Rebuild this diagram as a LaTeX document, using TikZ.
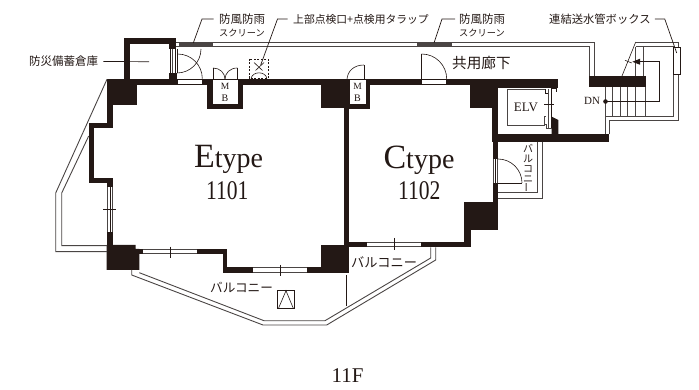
\documentclass[tikz,border=0pt]{standalone}
\usepackage{fontspec}
\usepackage{xcolor}
\newfontfamily\cjk{Noto Sans CJK JP}
\newfontfamily\planserif{Liberation Serif}
\definecolor{wallblack}{HTML}{231815}
\definecolor{linegrey}{HTML}{4A4544}
\newcommand{\narrow}[1]{\scalebox{0.8}[1]{#1}}
\newcommand{\bigsize}[1]{\fontsize{#1}{#1}\selectfont}

\begin{document}
\begin{tikzpicture}[x=1pt,y=1pt]
\tikzstyle{every node}+=[inner sep=0pt]
\tikzstyle{wall}=[fill=wallblack,draw=none]
\tikzstyle{gap}=[fill=white,draw=none]
\tikzstyle{rail}=[draw=linegrey,line width=0.9pt]
\tikzstyle{thin}=[draw=wallblack,line width=0.6pt]
\tikzstyle{leader}=[draw=wallblack,line width=0.7pt]
\tikzstyle{jptext}=[text=wallblack,font=\cjk\bigsize{11.5}]
\tikzstyle{romantext}=[text=wallblack,font=\planserif]
\useasboundingbox (0,0) rectangle (699,-390);
% storage box
\fill [wall] (124.3,-38.3) rectangle (130,-80);
\fill [wall] (124.3,-38.3) rectangle (175.7,-44);
\fill [wall] (169.3,-38.3) rectangle (175.7,-49.3);
\fill [wall] (169.3,-72.7) rectangle (176.7,-80);
% wall along the corridor
\fill [wall] (107,-79.3) rectangle (177,-84.7);
\fill [wall] (202,-79.3) rectangle (421.7,-84.7);
\fill [wall] (446.7,-79.3) rectangle (558.3,-84.7);
\fill [wall] (498,-79.3) rectangle (558.3,-87.7);
\fill [wall] (207.3,-79.3) rectangle (243,-109);
\fill [gap] (212.7,-79.3) rectangle (237.7,-104);
\fill [wall] (345,-79.3) rectangle (370,-109);
\fill [gap] (350,-79.3) rectangle (366,-104);
% left side of E
\fill [wall] (107,-79.3) rectangle (137,-104.7);
\fill [wall] (107.3,-79.3) rectangle (112.7,-128.3);
\fill [wall] (89,-122.7) rectangle (112.7,-128.3);
\fill [wall] (89,-122.7) rectangle (94.3,-183.3);
\fill [wall] (89,-178) rectangle (112.7,-183.3);
\fill [wall] (107.3,-178) rectangle (112.7,-187.3);
\fill [wall] (107.3,-232) rectangle (112.7,-245);
\fill [wall] (106.7,-245) -- (135.7,-245) -- (135.7,-249) -- (139.3,-249) -- (139.3,-270) -- (106.7,-270) -- cycle;
% bottom of E
\fill [wall] (135.7,-249) rectangle (143,-254);
\fill [wall] (197,-249) rectangle (227.3,-254);
\fill [wall] (222.7,-249) rectangle (227.3,-272.7);
\fill [wall] (222.7,-267.3) rectangle (253,-272.7);
\fill [wall] (307,-267.3) rectangle (349.3,-272.7);
\fill [wall] (321,-244.7) rectangle (349.3,-272.7);
% wall between E and C
\fill [wall] (321,-79.3) rectangle (350,-108);
\fill [wall] (344.3,-85) rectangle (349.3,-245);
% right side of C and the lift
\fill [wall] (470,-84) rectangle (498,-107.7);
\fill [wall] (491.7,-79.3) rectangle (498,-142.3);
\fill [wall] (491.7,-134.3) rectangle (609.3,-142.3);
\fill [wall] (492.7,-142) rectangle (498,-159);
\fill [wall] (492.7,-183) rectangle (498,-230);
\fill [wall] (464,-202) rectangle (498,-230);
\fill [wall] (464,-230) rectangle (470.7,-247.3);
\fill [wall] (421,-241.7) rectangle (470.7,-247.3);
\fill [wall] (349.3,-241.7) rectangle (367,-247.3);
\fill [wall] (551.7,-116.7) -- (558.3,-120) -- (558.3,-135) -- (551.7,-135) -- cycle;
\fill [wall] (589,-76) rectangle (646,-87.3);
% windows
\draw [thin] (169.8,-49.3) -- (169.8,-72.7);
\draw [thin] (175.2,-49.3) -- (175.2,-72.7);
\draw [rail] (172,-49.3) -- (172,-72.7);
\draw [rail] (107.7,-187.3) -- (107.7,-232);
\draw [rail] (112.3,-187.3) -- (112.3,-232);
\draw [thin] (110,-187.3) -- (110,-232);
\draw [thin] (103,-209.3) -- (116,-209.3);
\draw [rail] (143,-249.5) -- (197,-249.5);
\draw [rail] (143,-253.5) -- (197,-253.5);
\draw [thin] (170,-246.7) -- (170,-257.7);
\draw [rail] (253,-267.8) -- (307,-267.8);
\draw [rail] (253,-272.2) -- (307,-272.2);
\draw [thin] (280,-265) -- (280,-276);
\draw [rail] (367,-242.2) -- (421,-242.2);
\draw [rail] (367,-246.8) -- (421,-246.8);
\draw [thin] (394,-238) -- (394,-250);
\draw [rail] (493.2,-159) -- (493.2,-183);
\draw [rail] (497.5,-159) -- (497.5,-183);
\draw [thin] (495.3,-159) -- (495.3,-183);
% doors
\draw [thin] (177,-79.3) rectangle (202,-84.7);
\draw [thin] (177.7,-54) arc (90:0:24.6);
\draw [thin] (177,-49) -- (177,-73);
\draw [thin] (177,-73) arc (-90:0:24);
\draw [thin] (421.7,-54) -- (421.7,-79.3);
\draw [thin] (421.7,-54) arc (90:0:25);
\draw [thin] (421.7,-79.3) rectangle (446.7,-84.7);
\draw [thin] (498,-159) arc (90:0:24);
\draw [thin] (498,-183) -- (522,-183);
\draw [thin] (213,-79.3) -- (213,-68);
\draw [thin] (213,-68) .. controls (220,-68) and (225,-73) .. (225,-79.3);
\draw [thin] (237.3,-79.3) -- (237.3,-68);
\draw [thin] (237.3,-68) .. controls (230,-68) and (225,-73) .. (225,-79.3);
\draw [thin] (212.7,-79.3) -- (237.7,-79.3);
\draw [thin] (364,-79.3) -- (364,-65);
\draw [thin] (364,-65) .. controls (354,-65) and (347.5,-71) .. (347,-79.3);
\draw [thin] (350,-79.3) -- (366,-79.3);
% corridor rails and screens
\draw [rail] (175.7,-42.3) -- (594,-42.3) -- (594,-76);
\draw [rail] (175.7,-46.7) -- (589,-46.7) -- (589,-76);
\fill [linegrey] (178.5,-43) rectangle (213,-45.7);
\fill [linegrey] (417,-43) rectangle (452,-45.7);
% balconies
\draw [rail] (107,-79.3) -- (55.7,-193) -- (55.7,-251.7) -- (107,-251.7);
\draw [rail] (88.7,-136) -- (61.7,-193) -- (61.7,-245.7) -- (107,-245.7);
\draw [rail] (139.3,-272.7) -- (264,-320.7) -- (325,-320.7) -- (430.7,-258) -- (430.7,-247.3);
\draw [rail] (131.7,-270) -- (131.7,-275) -- (263,-325) -- (326.7,-325) -- (435.7,-260) -- (435.7,-247.3);
\draw [thin] (346,-275) -- (346,-306);
\draw [rail] (498,-192.7) -- (537.3,-192.7) -- (537.3,-142.3);
\draw [rail] (498,-198.3) -- (542,-198.3) -- (542,-142.3);
% lift
\draw [rail] (545.7,-89) -- (507.3,-89) -- (507.3,-125) -- (544,-125) -- (544,-116.7) -- (546,-116.7);
\draw [rail] (544,-124.3) -- (546.7,-124.3) -- (546.7,-128.3) -- (551.7,-128.3);
\draw [rail] (548.3,-89) -- (548.3,-128.3);
\draw [thin] (551.7,-88) -- (551.7,-128.3);
\draw [thin] (545.7,-89) -- (545.7,-93) -- (547.5,-93);
\draw [thin] (551.7,-88) -- (556,-88) -- (556,-92);
\draw [thin] (544,-104.3) -- (554,-104.3);
% stairs
\foreach \treadx in {605,612.7,620,627.3,635,645.7}
  \draw [rail] (\treadx,-87.3) -- (\treadx,-116.7);
\foreach \treadx in {635.7,643.3}
  \draw [rail] (\treadx,-46.7) -- (\treadx,-76);
\draw [rail] (605,-134.3) -- (605,-116.7) -- (673,-116.7) -- (673,-46.7) -- (635.7,-46.7);
\draw [rail] (609.3,-134.3) -- (609.3,-120.7) -- (678.3,-120.7) -- (678.3,-42) -- (635.7,-42);
\draw [thin] (622,-76) -- (635.7,-42);
\draw [thin] (625,-60.3) -- (631.7,-63);
\coordinate (stairfoot) at (605.5,-101.5);
\coordinate (stairtop) at (632.3,-61.8);
\fill [wallblack] (stairfoot) circle (2.3);
\draw [thin] (stairfoot) -- (659.3,-101.5) -- (659.3,-61.5) -- (640,-61.5);
\fill [wallblack] (stairtop) -- (640,-58.7) -- (640,-64.7) -- cycle;
\draw [thin,fill=white] (673.3,-47) rectangle (680.7,-74.7);
% symbols in the plan
\draw [thin,dash pattern=on 2pt off 1.5pt,line width=0.9pt] (249,-59) rectangle (268,-78.3);
\draw [thin] (254,-62.5) -- (262.5,-70.5);
\draw [thin] (264,-62.5) -- (255.5,-70.5);
\draw [thin] (251,-78.3) .. controls (253,-71) and (265,-71) .. (267,-78.3);
\draw [thin] (277.7,-290.7) rectangle (294,-308.3);
\draw [thin] (278.5,-308.3) -- (286,-290.7) -- (293.3,-308.3);
% labels
\node [jptext,anchor=west] (lblstore) at (29,-61.5) {防災備蓄倉庫};
\coordinate (storeend) at (149,-61.7);
\draw [leader] ([xshift=5pt]lblstore.east) -- (storeend);
\node [jptext,anchor=west] (lblwinda) at (219,-19) {防風防雨};
\node [jptext,anchor=west,font=\cjk\bigsize{9.2}] (lblscra) at (219,-33) {スクリーン};
\coordinate (windaend) at (193.3,-43);
\draw [leader] ([xshift=-5.5pt]lblwinda.west) -- ++(-11.5,0) -- (windaend);
\node [jptext,anchor=west,font=\cjk\bigsize{10.8}] (lblhatch) at (293,-19) {上部点検口+点検用タラップ};
\coordinate (hatchend) at (260.7,-65);
\draw [leader] ([xshift=-5.5pt]lblhatch.west) -- ++(-10,0) -- (hatchend);
\node [jptext,anchor=west] (lblwindb) at (459,-19) {防風防雨};
\node [jptext,anchor=west,font=\cjk\bigsize{9.2}] (lblscrb) at (459,-33) {スクリーン};
\coordinate (windbend) at (434,-43);
\draw [leader] ([xshift=-4pt]lblwindb.west) -- ++(-13,0) -- (windbend);
\node [jptext,anchor=west,font=\cjk\bigsize{11.3}] (lblpipe) at (549,-19) {連結送水管ボックス};
\coordinate (pipeend) at (676.7,-53);
\draw [leader] ([xshift=4pt]lblpipe.east) -- ++(10,0) -- (pipeend);
\node [jptext,anchor=west,font=\cjk\bigsize{14.6}] (lblhall) at (452,-62.5) {共用廊下};
\node [jptext,anchor=west,font=\cjk\bigsize{12.6}] (lblbalcl) at (210,-287) {バルコニー};
\node [jptext,anchor=west,font=\cjk\bigsize{13.2}] (lblbalcm) at (351,-262) {バルコニー};
\node [jptext,align=center,font=\cjk\bigsize{10}] (lblbalcr) at (528,-168.5) {\baselineskip=9.6pt バ\\ル\\コ\\ニ\\\rotatebox{90}{ー}};
\node [romantext,anchor=base] (lbletype) at (228.5,-168) {\bigsize{34}E\bigsize{28}type};
\node [romantext,anchor=base] (lbleroom) at (227.3,-200) {\bigsize{27}\narrow{1101}};
\node [romantext,anchor=base] (lblctype) at (419,-168.3) {\bigsize{34}C\bigsize{28}type};
\node [romantext,anchor=base] (lblcroom) at (419.2,-199.3) {\bigsize{27}\narrow{1102}};
\node [romantext,anchor=base] (lblelv) at (526,-111.5) {\bigsize{13}ELV};
\node [romantext,anchor=base] (lbldn) at (592,-105) {\bigsize{11}DN};
\node [romantext,align=center] (lblmbe) at (225,-92.5) {\bigsize{9.5}\baselineskip=8.5pt M\\B};
\node [romantext,align=center] (lblmbc) at (357.5,-92.5) {\bigsize{9.5}\baselineskip=8.5pt M\\B};
\node [romantext,anchor=base] (lblfloor) at (347.5,-382) {\bigsize{21}11F};
\end{tikzpicture}
\end{document}
